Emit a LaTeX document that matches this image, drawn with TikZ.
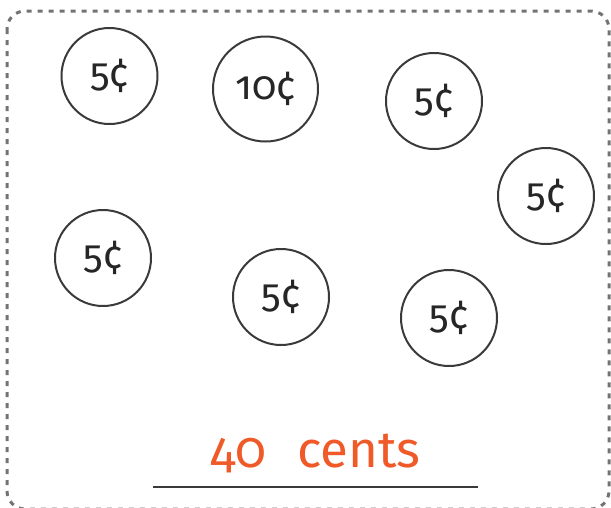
\documentclass[tikz,border=0pt]{standalone}
\usepackage{fontspec}
\setmainfont{Fira Sans}[Numbers=OldStyle]
\definecolor{coinline}{HTML}{3A3A3A}
\definecolor{dashgray}{HTML}{737373}
\definecolor{orangetxt}{HTML}{F05A28}
\begin{document}
\begin{tikzpicture}[x=1pt,y=-1pt,
  coin/.style={circle,draw=coinline,line width=2pt,minimum size=#1,inner sep=0pt,
    font=\fontsize{40}{40}\selectfont,text=black!85},
  coin/.default=96pt]
\useasboundingbox (0,0) rectangle (611,507);
\draw[dashgray,line width=3pt,dash pattern=on 5pt off 6pt,rounded corners=18pt]
  (7,11) rectangle (609,509);
\node[coin] (c1) at (109.5,76) {5¢};
\node[coin=105pt] (c2) at (265.5,89) {10¢};
\node[coin] (c3) at (434,101) {5¢};
\node[coin] (c4) at (546,196) {5¢};
\node[coin] (c5) at (103,258) {5¢};
\node[coin] (c6) at (281,297) {5¢};
\node[coin] (c7) at (449,318) {5¢};
\node[text=orangetxt,font=\fontsize{51}{51}\selectfont,anchor=base] (total) at (315.5,467) {40\hspace{0.6em}cents};
\coordinate (la) at (153,487);
\coordinate (lb) at (478,487);
\draw[coinline,line width=2.5pt] (la) -- (lb);
\end{tikzpicture}
\end{document}
